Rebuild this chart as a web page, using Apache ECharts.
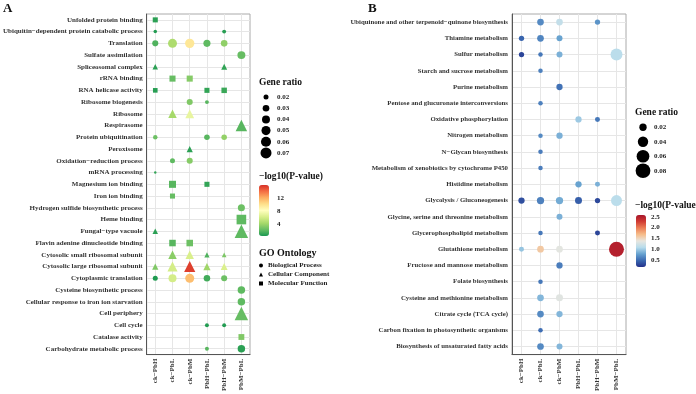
<!DOCTYPE html>
<html>
<head>
<meta charset="utf-8">
<script src="https://cdn.jsdelivr.net/npm/echarts@6/dist/echarts.min.js"></script>
<style>
html, body { margin: 0; padding: 0; background: #fff; }
#main { width: 696px; height: 394px; }
</style>
</head>
<body>
<div id="main"></div>
<script>
// comparison groups (x axis of both panels)
var groups = ['ck−PbH', 'ck−PbL', 'ck−PbM', 'PbH−PbL', 'PbH−PbM', 'PbM−PbL'];

// panel A: GO terms, top to bottom
var termsA = [
    'Unfolded protein binding', 'Ubiquitin−dependent protein catabolic process', 'Translation',
    'Sulfate assimilation', 'Spliceosomal complex', 'rRNA binding', 'RNA helicase activity',
    'Ribosome biogenesis', 'Ribosome', 'Respirasome', 'Protein ubiquitination', 'Peroxisome',
    'Oxidation−reduction process', 'mRNA processing', 'Magnesium ion binding', 'Iron ion binding',
    'Hydrogen sulfide biosynthetic process', 'Heme binding', 'Fungal−type vacuole',
    'Flavin adenine dinucleotide binding', 'Cytosolic small ribosomal subunit',
    'Cytosolic large ribosomal subunit', 'Cytoplasmic translation', 'Cysteine biosynthetic process',
    'Cellular response to iron ion starvation', 'Cell periphery', 'Cell cycle',
    'Catalase activity', 'Carbohydrate metabolic process'
];
var ontologyA = ['MF', 'BP', 'BP', 'BP', 'CC', 'MF', 'MF', 'BP', 'CC', 'CC', 'BP', 'CC', 'BP', 'BP',
    'MF', 'MF', 'BP', 'MF', 'CC', 'MF', 'CC', 'CC', 'BP', 'BP', 'BP', 'CC', 'BP', 'MF', 'BP'];
var ontologyKeys = ['BP', 'CC', 'MF'];
var ontologyNames = ['Biological Process', 'Cellular Component', 'Molecular Function'];

// [term index, group index, gene ratio, -log10(p)]
var pointsA = [
    [0, 0, 0.025, 0.6],
    [1, 0, 0.0134, 0.4], [1, 4, 0.015, 0.5],
    [2, 0, 0.026, 1.6], [2, 1, 0.049, 4.5], [2, 2, 0.052, 9.8], [2, 3, 0.033, 2.0], [2, 4, 0.030, 3.5],
    [3, 5, 0.040, 2.2],
    [4, 0, 0.018, 0.6], [4, 4, 0.020, 0.8],
    [5, 1, 0.033, 2.2], [5, 2, 0.033, 3.2],
    [6, 0, 0.022, 0.5], [6, 3, 0.025, 0.8], [6, 4, 0.028, 1.0],
    [7, 2, 0.026, 3.0], [7, 3, 0.015, 1.8],
    [8, 1, 0.033, 4.2], [8, 2, 0.035, 7.0],
    [9, 5, 0.055, 1.8],
    [10, 0, 0.0175, 2.4], [10, 3, 0.023, 1.8], [10, 4, 0.023, 3.6],
    [11, 2, 0.021, 0.6],
    [12, 1, 0.020, 2.0], [12, 2, 0.026, 3.2],
    [13, 0, 0.010, 0.8],
    [14, 1, 0.042, 1.8], [14, 3, 0.025, 0.8],
    [15, 1, 0.025, 2.2],
    [16, 5, 0.033, 2.4],
    [17, 5, 0.072, 2.0],
    [18, 0, 0.018, 0.6], [18, 5, 0.073, 2.0],
    [19, 1, 0.037, 1.8], [19, 2, 0.037, 2.4],
    [20, 1, 0.033, 3.3], [20, 2, 0.033, 6.2], [20, 3, 0.017, 1.6], [20, 4, 0.015, 2.9],
    [21, 0, 0.021, 3.0], [21, 1, 0.044, 6.0], [21, 2, 0.052, 15.8], [21, 3, 0.026, 4.0], [21, 4, 0.024, 6.3],
    [22, 0, 0.020, 0.3], [22, 1, 0.040, 6.0], [22, 2, 0.049, 11.6], [22, 3, 0.029, 1.2], [22, 4, 0.026, 2.4],
    [23, 5, 0.036, 2.0],
    [24, 5, 0.036, 2.0],
    [25, 5, 0.073, 2.2],
    [26, 3, 0.015, 0.4], [26, 4, 0.015, 0.4],
    [27, 5, 0.031, 3.0],
    [28, 3, 0.015, 1.8], [28, 5, 0.036, 0.6]
];

// panel B: KEGG pathways, top to bottom
var termsB = [
    'Ubiquinone and other terpenoid−quinone biosynthesis', 'Thiamine metabolism', 'Sulfur metabolism',
    'Starch and sucrose metabolism', 'Purine metabolism', 'Pentose and glucuronate interconversions',
    'Oxidative phosphorylation', 'Nitrogen metabolism', 'N−Glycan biosynthesis',
    'Metabolism of xenobiotics by cytochrome P450', 'Histidine metabolism', 'Glycolysis / Gluconeogenesis',
    'Glycine, serine and threonine metabolism', 'Glycerophospholipid metabolism', 'Glutathione metabolism',
    'Fructose and mannose metabolism', 'Folate biosynthesis', 'Cysteine and methionine metabolism',
    'Citrate cycle (TCA cycle)', 'Carbon fixation in photosynthetic organisms',
    'Biosynthesis of unsaturated fatty acids'
];
var pointsB = [
    [0, 1, 0.0166, 0.65], [0, 2, 0.0166, 1.15], [0, 4, 0.0104, 0.70],
    [1, 0, 0.0104, 0.45], [1, 1, 0.0166, 0.62], [1, 2, 0.0133, 0.78],
    [2, 0, 0.0104, 0.28], [2, 1, 0.0075, 0.55], [2, 2, 0.0133, 0.85], [2, 5, 0.053, 1.10],
    [3, 1, 0.0075, 0.60],
    [4, 2, 0.0147, 0.52],
    [5, 1, 0.0075, 0.60],
    [6, 3, 0.0147, 0.98], [6, 4, 0.0092, 0.55],
    [7, 1, 0.0075, 0.65], [7, 2, 0.0147, 0.85],
    [8, 1, 0.0075, 0.58],
    [9, 1, 0.0075, 0.58],
    [10, 3, 0.0147, 0.78], [10, 4, 0.0092, 0.85],
    [11, 0, 0.0147, 0.33], [11, 1, 0.0197, 0.60], [11, 2, 0.0197, 0.82], [11, 3, 0.0181, 0.42],
    [11, 4, 0.0104, 0.30], [11, 5, 0.0447, 1.10],
    [12, 2, 0.0133, 0.85],
    [13, 1, 0.0075, 0.55], [13, 4, 0.0092, 0.28],
    [14, 0, 0.0092, 0.95], [14, 1, 0.0166, 1.60], [14, 2, 0.0166, 1.35], [14, 5, 0.083, 2.50],
    [15, 2, 0.0147, 0.58],
    [16, 1, 0.0075, 0.55],
    [17, 1, 0.0166, 0.88], [17, 2, 0.0181, 1.33],
    [18, 1, 0.0166, 0.65], [18, 2, 0.0147, 0.88],
    [19, 1, 0.0075, 0.50],
    [20, 1, 0.0166, 0.65], [20, 2, 0.0133, 0.88]
];

// legend breaks and colour-bar ticks
var sizeBreaksA = [0.02, 0.03, 0.04, 0.05, 0.06, 0.07];
var sizeBreaksB = [0.02, 0.04, 0.06, 0.08];
var colorTicksA = [4, 8, 12];
var colorTicksB = [0.5, 1.0, 1.5, 2.0, 2.5];
var colorRangeA = [0.16, 16.3];
var colorRangeB = [0.17, 2.59];

var FONT = '"Liberation Serif", "DejaVu Serif", serif';
var shapeOf = { BP: 'circle', CC: 'triangle', MF: 'rect' };
var shapeScale = { BP: 1, CC: 1.2, MF: 0.86 };

function sizeA(r) {
    return Math.sqrt(Math.max(5, 1920 * r - 13.4));
}
function sizeB(r) {
    return 52 * Math.sqrt(r);
}

var dom = document.getElementById('main');
var myChart = echarts.init(dom);

function mainX(gi, fs) {
    return {
        type: 'category', gridIndex: gi, data: groups, boundaryGap: true,
        axisLine: { lineStyle: { color: '#555', width: 1 } },
        axisTick: { alignWithLabel: true, length: 3, lineStyle: { color: '#555' } },
        axisLabel: { rotate: 90, fontSize: fs, fontFamily: FONT, fontWeight: 'bold', color: '#333', margin: 4 },
        splitLine: { show: true, alignWithLabel: true, lineStyle: { color: '#e6e6e6', width: 1 } }
    };
}
function mainY(gi, terms, fs) {
    return {
        type: 'category', gridIndex: gi, data: terms, inverse: true, boundaryGap: true,
        axisLine: { lineStyle: { color: '#555', width: 1 } },
        axisTick: { alignWithLabel: true, length: 3, lineStyle: { color: '#555' } },
        axisLabel: { fontSize: fs, fontFamily: FONT, fontWeight: 'bold', color: '#333', margin: 4 },
        splitLine: { show: true, alignWithLabel: true, lineStyle: { color: '#e6e6e6', width: 1 } }
    };
}
function hiddenX(gi) {
    return { type: 'value', gridIndex: gi, min: 0, max: 1, show: false };
}
function legendY(gi, breaks) {
    return {
        type: 'category', gridIndex: gi, data: breaks.map(function (b) { return b.toFixed(2); }),
        inverse: true, position: 'right',
        axisLine: { show: false }, axisTick: { show: false }, splitLine: { show: false },
        axisLabel: { fontSize: 7, fontFamily: FONT, fontWeight: 'bold', color: '#222', margin: 6 }
    };
}
function barY(gi, range, ticks, digits, margin) {
    return {
        type: 'value', gridIndex: gi, min: range[0], max: range[1], position: 'right',
        axisLine: { show: false }, axisTick: { show: false }, splitLine: { show: false },
        axisLabel: {
            customValues: ticks, margin: margin, fontSize: 7, fontFamily: FONT, fontWeight: 'bold', color: '#222',
            formatter: function (v) { return v.toFixed(digits); }
        }
    };
}

var seriesList = [];
ontologyKeys.forEach(function (key, k) {
    seriesList.push({
        name: ontologyNames[k],
        type: 'scatter', xAxisIndex: 0, yAxisIndex: 0,
        symbol: shapeOf[key],
        itemStyle: { opacity: 1 },
        symbolSize: function (val) { return sizeA(val[2]) * shapeScale[key]; },
        data: pointsA.filter(function (p) { return ontologyA[p[0]] === key; })
            .map(function (p) { return [p[1], p[0], p[2], p[3]]; })
    });
});
seriesList.push({
    name: 'pathways', type: 'scatter', xAxisIndex: 1, yAxisIndex: 1, symbol: 'circle',
    itemStyle: { opacity: 1 },
    symbolSize: function (val) { return sizeB(val[2]); },
    data: pointsB.map(function (p) { return [p[1], p[0], p[2], p[3]]; })
});
seriesList.push({
    name: 'sizeA', type: 'scatter', xAxisIndex: 2, yAxisIndex: 2, symbol: 'circle',
    itemStyle: { color: '#000', opacity: 1 }, silent: true,
    symbolSize: function (val) { return sizeA(val[2]); },
    data: sizeBreaksA.map(function (b, i) { return [0.5, i, b]; })
});
seriesList.push({
    name: 'sizeB', type: 'scatter', xAxisIndex: 3, yAxisIndex: 3, symbol: 'circle',
    itemStyle: { color: '#000', opacity: 1 }, silent: true,
    symbolSize: function (val) { return sizeB(val[2]); },
    data: sizeBreaksB.map(function (b, i) { return [0.5, i, b]; })
});

var titleFont = { fontFamily: FONT, fontWeight: 'bold', color: '#111' };
function ttl(text, left, top, size) {
    return { text: text, left: left, top: top, padding: 0,
        textStyle: Object.assign({ fontSize: size }, titleFont) };
}

option = {
    animation: false,
    title: [
        ttl('A', 3, 2, 13),
        ttl('B', 368, 2, 13),
        ttl('Gene ratio', 259, 78, 9.5),
        ttl('−log10(P-value)', 259, 172, 9.5),
        ttl('GO Ontology', 259, 248, 10),
        ttl('Gene ratio', 635, 108, 9.5),
        ttl('−log10(P-value)', 635, 201, 9.5)
    ],
    grid: [
        { left: 146, top: 14, width: 104, height: 343, show: true, borderColor: '#aaa', borderWidth: 1 },
        { left: 512, top: 14, width: 114, height: 343, show: true, borderColor: '#aaa', borderWidth: 1 },
        { left: 261, top: 91.5, width: 10, height: 67 },
        { left: 638, top: 120, width: 10, height: 58 },
        { left: 259, top: 185, width: 10, height: 51 },
        { left: 636, top: 215, width: 10, height: 52 }
    ],
    xAxis: [mainX(0, 7), mainX(1, 7), hiddenX(2), hiddenX(3), hiddenX(4), hiddenX(5)],
    yAxis: [
        mainY(0, termsA, 7),
        mainY(1, termsB, 6.8),
        legendY(2, sizeBreaksA),
        legendY(3, sizeBreaksB),
        barY(4, colorRangeA, colorTicksA, 0, 8),
        barY(5, colorRangeB, colorTicksB, 1, 5)
    ],
    visualMap: [{
        type: 'continuous', seriesIndex: [0, 1, 2], dimension: 3,
        min: colorRangeA[0], max: colorRangeA[1],
        left: 259, top: 185, itemWidth: 10, itemHeight: 51, padding: 0,
        calculable: false, text: null, showLabel: false,
        inRange: { color: ['#1a9850', '#66bd63', '#a6d96a', '#d9ef8b', '#ffffbf', '#fee08b', '#fdae61', '#f46d43', '#d73027'] }
    }, {
        type: 'continuous', seriesIndex: [3], dimension: 3,
        min: colorRangeB[0], max: colorRangeB[1],
        left: 636, top: 215, itemWidth: 10, itemHeight: 52, padding: 0,
        calculable: false, text: null, showLabel: false,
        inRange: { color: ['#23318b', '#3b69b1', '#67a2d0', '#b7dcec', '#e8e6df', '#f6bd8b', '#ec7f57', '#d13b33', '#a8152a'] }
    }],
    legend: {
        data: [
            { name: 'Biological Process', icon: 'circle' },
            { name: 'Cellular Component', icon: 'triangle' },
            { name: 'Molecular Function', icon: 'rect' }
        ],
        orient: 'vertical', left: 259, top: 262, padding: 0,
        itemWidth: 4, itemHeight: 4, itemGap: 2, itemTextGap: 3,
        selectedMode: false,
        itemStyle: { color: '#000' },
        textStyle: { fontSize: 7, fontFamily: FONT, fontWeight: 'bold', color: '#222' }
    },
    series: seriesList
};

if (option && typeof option === "object") {
    myChart.setOption(option, true);
}

window.addEventListener("resize", function () {
    myChart.resize();
});
</script>
</body>
</html>
